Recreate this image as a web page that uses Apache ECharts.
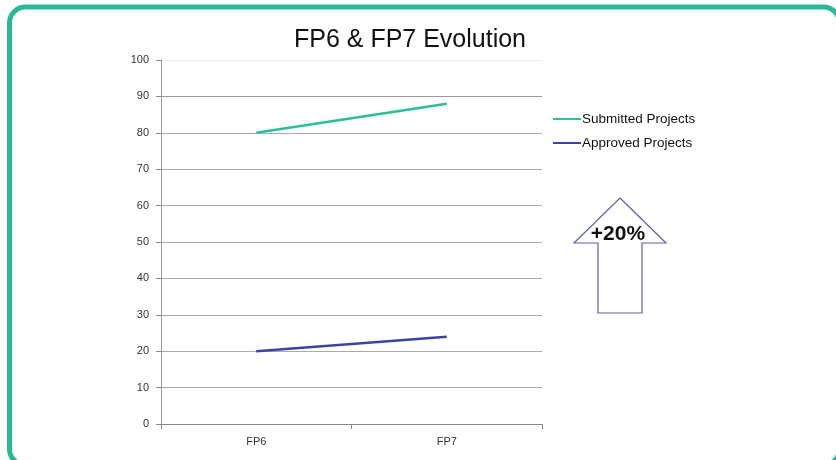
<!DOCTYPE html>
<html style="height: 100%">
<head>
<meta charset="utf-8">
<script src="https://cdn.jsdelivr.net/npm/echarts@6/dist/echarts.min.js"></script>
</head>
<body style="height: 100%; margin: 0; background: #fff">
<div id="container" style="width: 836px; height: 460px"></div>
<script type="text/javascript">
var categories = ['FP6', 'FP7'];
var submitted = [80, 88];
var approved = [20, 24];
var yTicks = [0, 10, 20, 30, 40, 50, 60, 70, 80, 90, 100];

var chart = echarts.init(document.getElementById('container'));
var font = 'Liberation Sans, Arial, sans-serif';

var option = {
    animation: false,
    backgroundColor: '#fff',
    title: {
        text: 'FP6 & FP7 Evolution',
        left: 405,
        textAlign: 'center',
        top: 23,
        textStyle: { fontFamily: font, fontSize: 25, fontWeight: 'normal', color: '#111' }
    },
    legend: {
        orient: 'vertical',
        left: 548,
        top: 107,
        itemWidth: 28,
        itemHeight: 2,
        itemGap: 10,
        icon: 'rect',
        textStyle: { fontFamily: font, fontSize: 13.5, color: '#111', padding: [0, 0, 0, -4] },
        data: ['Submitted Projects', 'Approved Projects']
    },
    grid: { left: 161, top: 60, width: 381, height: 364, containLabel: false },
    xAxis: {
        type: 'category',
        data: categories,
        boundaryGap: true,
        axisLine: { lineStyle: { color: '#888', width: 1 } },
        axisTick: { show: true, length: 5, lineStyle: { color: '#888' } },
        axisLabel: { fontFamily: font, fontSize: 11, color: '#333', margin: 12 },
        splitLine: { show: false }
    },
    yAxis: {
        type: 'value',
        min: yTicks[0],
        max: yTicks[yTicks.length - 1],
        interval: 10,
        axisLine: { show: true, lineStyle: { color: '#999', width: 1 } },
        axisTick: { show: true, length: 5, lineStyle: { color: '#888' } },
        axisLabel: { fontFamily: font, fontSize: 11, color: '#333', margin: 12 },
        splitLine: {
            show: true,
            lineStyle: {
                color: ['#888', '#aaa', '#aaa', '#aaa', '#aaa', '#aaa', '#aaa', '#aaa', '#aaa', '#999', '#eee'],
                width: 1
            }
        }
    },
    series: [
        {
            name: 'Submitted Projects',
            type: 'line',
            data: submitted,
            symbol: 'none',
            lineStyle: { color: '#2bbf95', width: 2.5 },
            itemStyle: { color: '#2bbf95' }
        },
        {
            name: 'Approved Projects',
            type: 'line',
            data: approved,
            symbol: 'none',
            lineStyle: { color: '#3b44a6', width: 2.5 },
            itemStyle: { color: '#3b44a6' }
        }
    ],
    graphic: [
        {
            type: 'rect',
            shape: { x: 9.5, y: 7, width: 830, height: 458, r: 16 },
            style: { fill: 'none', stroke: '#2bb894', lineWidth: 5 },
            silent: true
        },
        {
            type: 'polygon',
            shape: {
                points: [[620, 198], [666, 243], [642, 243], [642, 313],
                         [598, 313], [598, 243], [574, 243]]
            },
            style: { fill: '#fff', stroke: '#5a60b2', lineWidth: 1.2 }
        },
        {
            type: 'text',
            x: 618,
            y: 234,
            style: {
                text: '+20%',
                fontFamily: font,
                fontSize: 21,
                fontWeight: 'bold',
                fill: '#111',
                align: 'center',
                verticalAlign: 'middle'
            }
        }
    ]
};
chart.setOption(option);
</script>
</body>
</html>
